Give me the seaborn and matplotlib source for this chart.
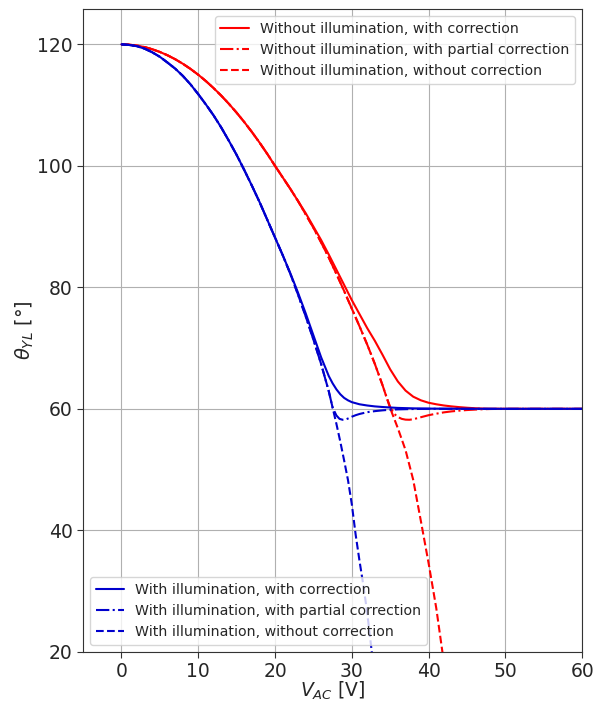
import matplotlib
matplotlib.use("Agg")
import matplotlib.pyplot as plt
import seaborn as sns
import pandas as pd

# Yaw-lock angle versus AC voltage
# Without illumination
v_dark_corr = [0, 1, 2, 3, 4, 5, 6, 7, 8, 9, 10, 11, 12, 13, 14, 15, 16, 17, 18, 19, 20,
               21, 22, 23, 24, 25, 26, 27, 28, 29, 30, 31, 32, 33, 34, 35, 36, 37, 38, 39,
               40, 41, 42, 43, 44, 45, 46, 47, 48, 50, 55, 60]
t_dark_corr = [120, 119.95, 119.8, 119.55, 119.2, 118.75, 118.2, 117.55, 116.8, 115.95,
               115.0, 113.95, 112.8, 111.55, 110.2, 108.75, 107.2, 105.55, 103.8, 101.95,
               100.0, 98.1, 96.2, 94.2, 92.2, 90.0, 87.8, 85.4, 82.9, 80.4, 77.9, 75.6,
               73.3, 71.2, 68.9, 66.5, 64.5, 63.0, 62.0, 61.4, 61.0, 60.75, 60.55, 60.4,
               60.28, 60.18, 60.1, 60.05, 60.02, 60.0, 60.0, 60.0]

v_dark_part = [0, 1, 2, 3, 4, 5, 6, 7, 8, 9, 10, 11, 12, 13, 14, 15, 16, 17, 18, 19, 20,
               21, 22, 23, 24, 25, 26, 27, 28, 29, 30, 31, 32, 33, 34, 34.5, 35, 35.5, 36,
               36.5, 37, 37.5, 38, 38.5, 39, 40, 41, 42, 43, 44, 45, 46, 47, 48, 50, 55, 60]
t_dark_part = [120, 119.95, 119.8, 119.55, 119.2, 118.75, 118.2, 117.55, 116.8, 115.95,
               115.0, 113.95, 112.8, 111.55, 110.2, 108.75, 107.2, 105.55, 103.8, 101.95,
               100.0, 98.1, 96.2, 94.2, 92.0, 89.8, 87.4, 84.9, 82.2, 79.4, 76.5, 73.6,
               70.6, 67.4, 63.9, 62.0, 60.3, 59.2, 58.65, 58.35, 58.22, 58.2, 58.28, 58.45,
               58.62, 58.95, 59.2, 59.42, 59.58, 59.7, 59.8, 59.87, 59.93, 59.97, 60.0,
               60.0, 60.0]

v_dark_none = [0, 1, 2, 3, 4, 5, 6, 7, 8, 9, 10, 11, 12, 13, 14, 15, 16, 17, 18, 19, 20,
               21, 22, 23, 24, 25, 26, 27, 28, 29, 30, 31, 32, 33, 34, 35, 36, 37, 38, 39,
               40, 41, 41.8, 42.4]
t_dark_none = [120, 119.95, 119.8, 119.55, 119.2, 118.75, 118.2, 117.55, 116.8, 115.95,
               115.0, 113.95, 112.8, 111.55, 110.2, 108.75, 107.2, 105.55, 103.8, 101.95,
               100.0, 98.1, 96.2, 94.2, 92.0, 89.8, 87.4, 84.9, 82.2, 79.4, 76.5, 73.6,
               70.6, 67.4, 63.9, 60.1, 56.8, 53.2, 48.3, 41.5, 34.6, 27.2, 20.0, 14.0]

# With illumination
v_lit_corr = [0, 1, 2, 3, 4, 5, 6, 7, 8, 9, 10, 11, 12, 13, 14, 15, 16, 17, 18, 19, 20,
              21, 22, 23, 24, 25, 26, 27, 27.5, 28, 28.5, 29, 29.5, 30, 31, 32, 33, 34, 35,
              36, 38, 40, 45, 50, 55, 60]
t_lit_corr = [120, 119.9, 119.7, 119.3, 118.7, 117.95, 117.0, 116.0, 114.8, 113.4, 111.8,
              110.1, 108.3, 106.3, 104.1, 101.8, 99.3, 96.7, 94.0, 91.1, 88.2, 85.3, 82.3,
              79.1, 75.7, 72.1, 68.5, 65.4, 64.2, 63.2, 62.4, 61.8, 61.4, 61.1, 60.75,
              60.55, 60.4, 60.3, 60.22, 60.15, 60.08, 60.04, 60.01, 60.0, 60.0, 60.0]

v_lit_part = [0, 1, 2, 3, 4, 5, 6, 7, 8, 9, 10, 11, 12, 13, 14, 15, 16, 17, 18, 19, 20,
              21, 22, 23, 24, 25, 26, 27, 27.5, 28, 28.4, 28.8, 29.2, 29.6, 30, 30.5, 31,
              32, 33, 34, 35, 36, 38, 40, 45, 50, 55, 60]
t_lit_part = [120, 119.9, 119.7, 119.3, 118.7, 117.95, 117.0, 116.0, 114.8, 113.4, 111.8,
              110.1, 108.3, 106.3, 104.1, 101.8, 99.3, 96.7, 94.0, 91.1, 88.2, 85.3, 82.2,
              78.8, 75.2, 71.4, 67.4, 62.9, 60.2, 58.9, 58.35, 58.2, 58.25, 58.45, 58.7,
              58.95, 59.15, 59.45, 59.62, 59.75, 59.85, 59.91, 59.97, 60.0, 60.0, 60.0,
              60.0, 60.0]

v_lit_none = [0, 1, 2, 3, 4, 5, 6, 7, 8, 9, 10, 11, 12, 13, 14, 15, 16, 17, 18, 19, 20,
              21, 22, 23, 24, 25, 26, 27, 27.5, 28, 28.5, 29, 29.5, 30, 30.5, 31, 31.5, 32,
              32.6, 33.0]
t_lit_none = [120, 119.9, 119.7, 119.3, 118.7, 117.95, 117.0, 116.0, 114.8, 113.4, 111.8,
              110.1, 108.3, 106.3, 104.1, 101.8, 99.3, 96.7, 94.0, 91.1, 88.2, 85.3, 82.2,
              78.8, 75.2, 71.4, 67.4, 62.9, 60.2, 57.5, 54.6, 51.5, 48.3, 44.3, 39.3, 35.0,
              31.0, 26.5, 20.0, 15.5]

dark_labels = ["Without illumination, with correction",
               "Without illumination, with partial correction",
               "Without illumination, without correction"]
lit_labels = ["With illumination, with correction",
              "With illumination, with partial correction",
              "With illumination, without correction"]

sns.set_style("ticks")
plt.rcParams["font.family"] = ["DejaVu Sans"]

fig = plt.figure(figsize=(6.02, 7.02), dpi=100)
ax = fig.add_axes([0.138, 0.0715, 0.829, 0.9155])

styles = ["-", "-.", "--"]
dark_sets = [(v_dark_corr, t_dark_corr), (v_dark_part, t_dark_part), (v_dark_none, t_dark_none)]
lit_sets = [(v_lit_corr, t_lit_corr), (v_lit_part, t_lit_part), (v_lit_none, t_lit_none)]


def draw_family(sets, color):
    handles = []
    for (vx, ty), ls in zip(sets, styles):
        df = pd.DataFrame({"V": vx, "theta": ty})
        sns.lineplot(data=df, x="V", y="theta", ax=ax, color=color, linestyle=ls,
                     linewidth=1.5, sort=False, estimator=None)
        handles.append(ax.lines[-1])
    return handles


dark_handles = draw_family(dark_sets, "red")
lit_handles = draw_family(lit_sets, "mediumblue")

ax.set_xlim(-5, 60)
ax.set_ylim(20, 125.8)
ax.set_xticks([0, 10, 20, 30, 40, 50, 60])
ax.set_yticks([20, 40, 60, 80, 100, 120])
ax.grid(True, color="#b0b0b0", linewidth=0.8)
ax.tick_params(labelsize=13.5, length=4, width=0.8, color="#333333")
for s in ax.spines.values():
    s.set_color("#333333")
    s.set_linewidth(0.8)

ax.set_xlabel(r"$V_{AC}$ [V]", fontsize=13.5, labelpad=-1)
ax.set_ylabel(r"$\theta_{YL}$ [°]", fontsize=14, labelpad=1)

leg1 = ax.legend(dark_handles, dark_labels, loc="upper right", fontsize=10.2,
                 framealpha=0.8)
ax.add_artist(leg1)
ax.legend(lit_handles, lit_labels, loc="lower left", fontsize=10.2, framealpha=0.8)

fig.savefig("out.png", dpi=100)
